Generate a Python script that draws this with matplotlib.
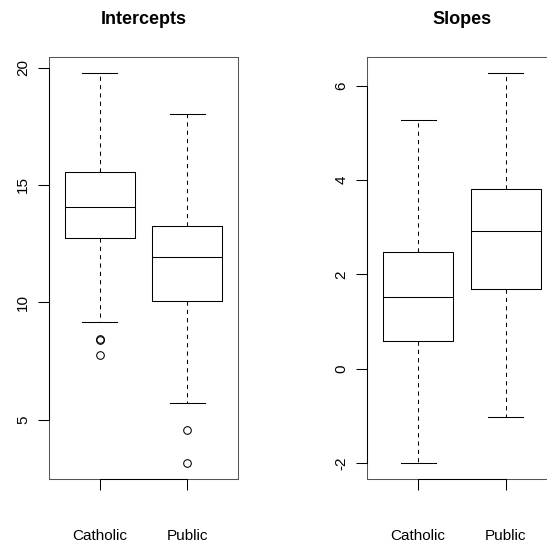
import matplotlib
matplotlib.use("Agg")
import matplotlib.pyplot as plt
import numpy as np

plt.rcParams['font.family'] = ['Liberation Sans', 'DejaVu Sans']

categories = ["Catholic", "Public"]

# Intercepts
int_whislo = [9.15, 5.71]
int_q1 = [12.72, 10.05]
int_med = [14.04, 11.94]
int_q3 = [15.54, 13.26]
int_whishi = [19.79, 18.03]
int_fliers = [[8.44, 8.37, 7.77], [4.54, 3.13]]
int_yticks = [5, 10, 15, 20]

# Slopes
slo_whislo = [-2.01, -1.02]
slo_q1 = [0.58, 1.69]
slo_med = [1.53, 2.93]
slo_q3 = [2.47, 3.82]
slo_whishi = [5.28, 6.28]
slo_fliers = [[], []]
slo_yticks = [-2, 0, 2, 4, 6]

titles = ["Intercepts", "Slopes"]

W, H = 547, 546
fig = plt.figure(figsize=(W / 100, H / 100), dpi=100)

ax_w = 189 / W
ax_h = 422 / H
ax_b = (H - 479) / H
axes = [fig.add_axes([49 / W, ax_b, ax_w, ax_h]),
        fig.add_axes([367.3 / W, ax_b, ax_w, ax_h])]

datasets = [
    (int_whislo, int_q1, int_med, int_q3, int_whishi, int_fliers, int_yticks),
    (slo_whislo, slo_q1, slo_med, slo_q3, slo_whishi, slo_fliers, slo_yticks),
]

lw = 0.75
for ax, title, (wl, q1, med, q3, wh, fl, yt) in zip(axes, titles, datasets):
    stats = []
    for i, name in enumerate(categories):
        stats.append(dict(label=name, whislo=wl[i], q1=q1[i], med=med[i],
                          q3=q3[i], whishi=wh[i], fliers=fl[i]))
    ax.bxp(stats, positions=[1, 2], widths=0.8, showfliers=True,
           boxprops=dict(color='black', linewidth=lw),
           medianprops=dict(color='black', linewidth=lw),
           whiskerprops=dict(color='black', linewidth=lw, linestyle=(0, (4, 4))),
           capprops=dict(color='black', linewidth=lw),
           capwidths=0.4,
           flierprops=dict(marker='o', markerfacecolor='none',
                           markeredgecolor='black', markersize=5.5,
                           markeredgewidth=lw))
    allv = wl + wh + [v for f in fl for v in f]
    lo, hi = min(allv), max(allv)
    r = hi - lo
    ax.set_ylim(lo - 0.04 * r, hi + 0.04 * r)
    ax.set_xlim(0.42, 2.58)
    ax.set_yticks(yt)
    ax.set_yticklabels([str(v) for v in yt], rotation=90, va='center', ha='right')
    ax.set_xticks([1, 2])
    ax.set_xticklabels(categories)
    ax.tick_params(axis='y', length=7.7, width=lw, pad=6, labelsize=11)
    ax.tick_params(axis='x', length=7.7, width=lw, pad=28, labelsize=11)
    for sp in ax.spines.values():
        sp.set_color('#555555')
        sp.set_linewidth(lw)
    # R-style axis lines spanning first to last tick
    y0 = ax.get_ylim()[0]
    x0 = ax.get_xlim()[0]
    ax.plot([1, 2], [y0, y0], color='black', lw=lw, clip_on=False, zorder=5)
    ax.plot([x0, x0], [yt[0], yt[-1]], color='black', lw=lw, clip_on=False, zorder=5)
    ax.set_title(title, fontsize=13, fontweight='bold', pad=24)

fig.savefig("out.png", dpi=100)
